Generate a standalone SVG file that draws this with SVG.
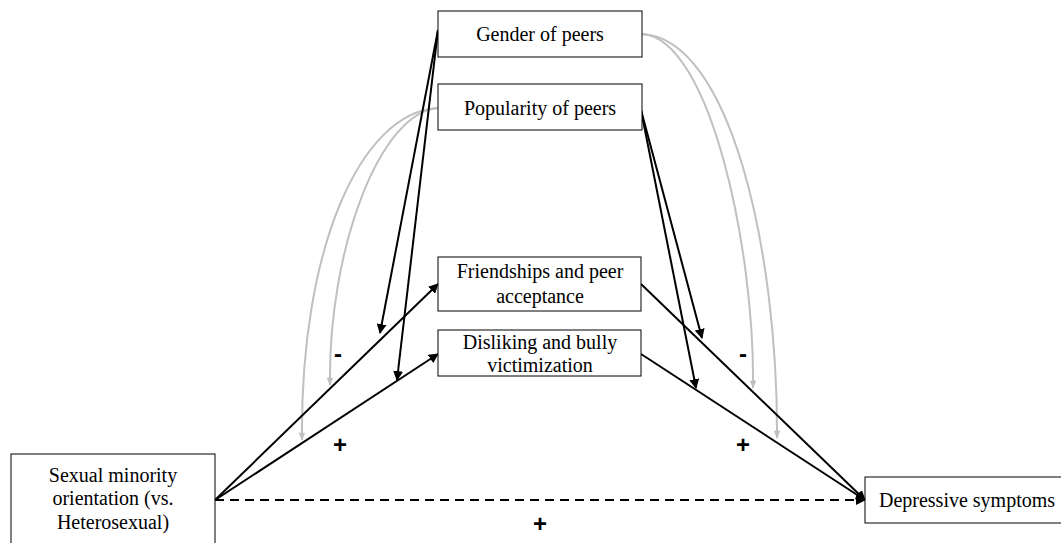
<svg xmlns="http://www.w3.org/2000/svg" width="1061" height="543" viewBox="0 0 1061 543">
<defs>
<style>
.box{fill:#fff;stroke:#000;stroke-width:1}
.t{font-family:"Liberation Serif","Times New Roman",serif;font-size:20px;fill:#000;text-anchor:middle}
.s{font-family:"Liberation Sans",Arial,sans-serif;font-size:24px;font-weight:bold;fill:#000;text-anchor:middle}
.bl{stroke:#000;stroke-width:2;fill:none;marker-end:url(#ab)}
.gr{stroke:#c0c0c0;stroke-width:2;fill:none;marker-end:url(#ag)}
</style>
<marker id="ab" viewBox="0 0 10 10" refX="9" refY="5" markerWidth="5" markerHeight="5" orient="auto" markerUnits="strokeWidth"><path d="M0,0 L10,5 L0,10 z" fill="#000"/></marker>
<marker id="ag" viewBox="0 0 10 10" refX="9" refY="5" markerWidth="5" markerHeight="4" orient="auto" markerUnits="strokeWidth"><path d="M0,1 L10,5 L0,9 z" fill="#c0c0c0"/></marker>
</defs>
<rect width="1061" height="543" fill="#fff"/>
<g id="connectors">
<path class="gr" d="M438,108 C360,112 300,250 302,440"/>
<path class="gr" d="M438,108 C380,112 328,250 330,385"/>
<path class="gr" d="M642,34 C730,38 778,250 777,438"/>
<path class="gr" d="M642,34 C710,38 755,250 753,388"/>
<path class="bl" d="M215,500 L438,284"/>
<path class="bl" d="M215,500 L438,354"/>
<path class="bl" d="M641,284 L865,500"/>
<path class="bl" d="M641,354 L865,500"/>
<path class="bl" d="M215,500 L865,500" stroke-dasharray="9,6"/>
<path class="bl" d="M438,30 L380,333"/>
<path class="bl" d="M438,30 L397,380"/>
<path class="bl" d="M641,110 L702,338"/>
<path class="bl" d="M641,110 L696,388"/>
</g>
<g id="gender"><rect class="box" x="438" y="11" width="204" height="46"/><text class="t" x="540" y="41">Gender of peers</text></g>
<g id="popularity"><rect class="box" x="438" y="84" width="204" height="46"/><text class="t" x="540" y="115">Popularity of peers</text></g>
<g id="friendships"><rect class="box" x="438" y="257" width="203" height="54"/><text class="t" x="540" y="278">Friendships and peer</text><text class="t" x="540" y="303">acceptance</text></g>
<g id="disliking"><rect class="box" x="438" y="330" width="203" height="46"/><text class="t" x="540" y="349">Disliking and bully</text><text class="t" x="540" y="372">victimization</text></g>
<g id="sexual"><rect class="box" x="11" y="454" width="204" height="100"/><text class="t" x="113" y="482">Sexual minority</text><text class="t" x="113" y="505">orientation (vs.</text><text class="t" x="113" y="529">Heterosexual)</text></g>
<g id="depressive"><rect class="box" x="865" y="477" width="200" height="46"/><text class="t" x="967" y="507">Depressive symptoms</text></g>
<g id="labels">
<text class="s" x="338" y="362">-</text>
<text class="s" x="743" y="362">-</text>
<text class="s" x="340" y="453">+</text>
<text class="s" x="743" y="453">+</text>
<text class="s" x="540" y="532">+</text>
</g>
</svg>
